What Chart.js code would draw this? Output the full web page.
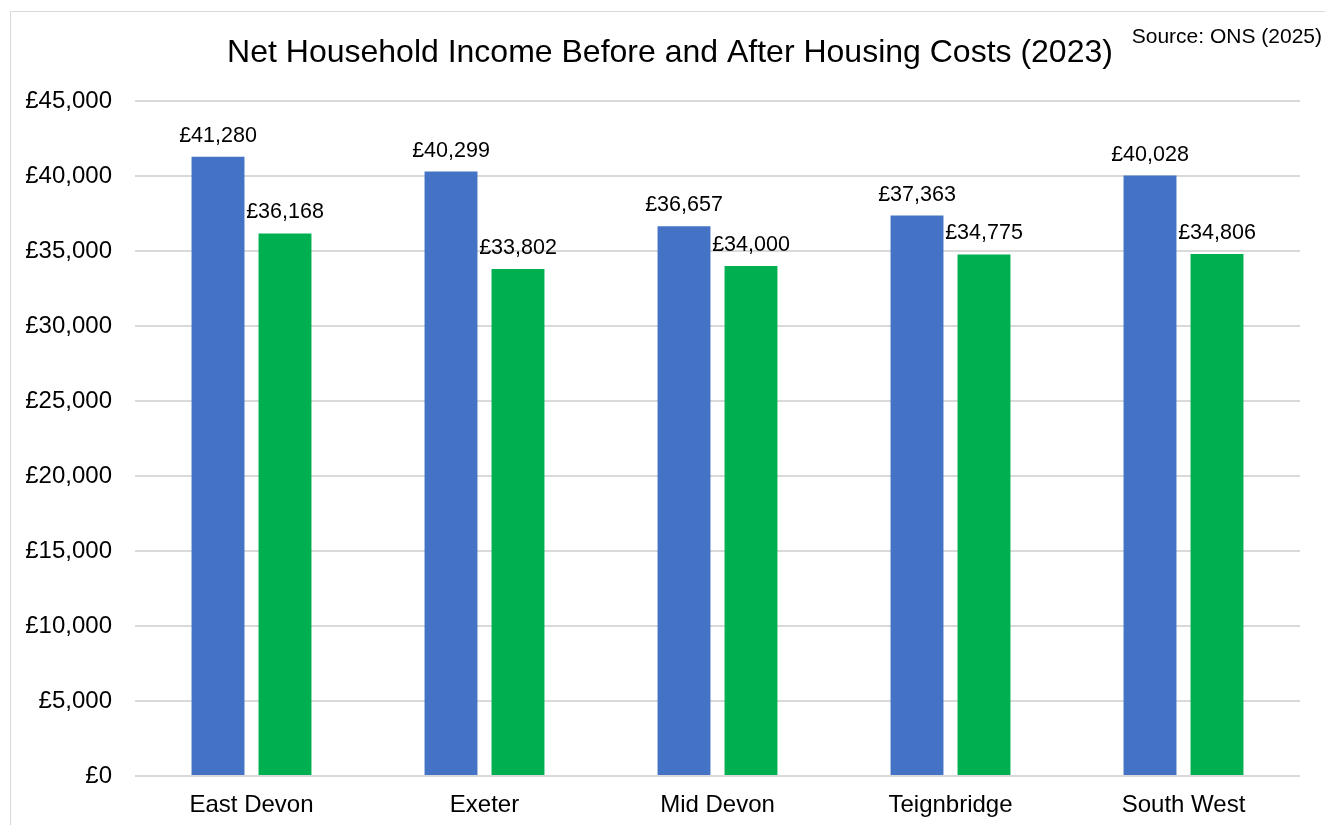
<!DOCTYPE html>
<html>
<head>
<meta charset="utf-8">
<script src="https://cdn.jsdelivr.net/npm/chart.js@4"></script>
<style>
html,body{margin:0;padding:0;background:#fff;}
#wrap{position:relative;width:1325px;height:825px;}
</style>
</head>
<body>
<div id="wrap"><canvas id="c" width="1325" height="825"></canvas></div>
<script>
const categories = ["East Devon", "Exeter", "Mid Devon", "Teignbridge", "South West"];
const beforeHousing = [41280, 40299, 36657, 37363, 40028];
const afterHousing = [36168, 33802, 34000, 34775, 34806];
const seriesNames = ["Before housing costs", "After housing costs"];
const titleText = "Net Household Income Before and After Housing Costs (2023)";
const sourceText = "Source: ONS (2025)";

const FONT = "'Liberation Sans', Arial, sans-serif";
const fmt = v => "£" + v.toLocaleString("en-GB");

const decor = {
  id: "decor",
  beforeDraw(chart) {
    const ctx = chart.ctx;
    ctx.save();
    ctx.fillStyle = "#fff";
    ctx.fillRect(0, 0, chart.width, chart.height);
    ctx.strokeStyle = "#d9d9d9";
    ctx.lineWidth = 1;
    ctx.strokeRect(10.5, 11.5, 1400, 900);
    ctx.restore();
  },
  afterDraw(chart) {
    const ctx = chart.ctx;
    ctx.save();
    ctx.fillStyle = "#000";
    ctx.textBaseline = "alphabetic";
    ctx.font = "32px " + FONT;
    ctx.textAlign = "center";
    ctx.fillText(titleText, 670, 62);
    ctx.font = "21px " + FONT;
    ctx.textAlign = "right";
    ctx.fillText(sourceText, 1322, 43);
    ctx.font = "21.5px " + FONT;
    ctx.textAlign = "center";
    chart.data.datasets.forEach((ds, i) => {
      const meta = chart.getDatasetMeta(i);
      meta.data.forEach((bar, j) => {
        ctx.fillText(fmt(ds.data[j]), bar.x, bar.y - 15);
      });
    });
    ctx.restore();
  }
};

new Chart(document.getElementById("c"), {
  type: "bar",
  data: {
    labels: categories,
    datasets: [
      { label: seriesNames[0], data: beforeHousing, backgroundColor: "#4472C4",
        categoryPercentage: 0.575, barPercentage: 0.79 },
      { label: seriesNames[1], data: afterHousing, backgroundColor: "#00B050",
        categoryPercentage: 0.575, barPercentage: 0.79 }
    ]
  },
  options: {
    responsive: false,
    animation: false,
    devicePixelRatio: 1,
    layout: { padding: { top: 101, right: 25, bottom: 0, left: 0 } },
    plugins: {
      legend: { display: false },
      tooltip: { enabled: false },
      title: { display: false }
    },
    scales: {
      x: {
        grid: { display: false, drawTicks: false },
        border: { display: false },
        ticks: { color: "#000", font: { family: FONT, size: 24 }, padding: 15 },
        afterFit(s) { s.height = 49; }
      },
      y: {
        min: 0, max: 45000,
        grid: { color: "#d9d9d9", lineWidth: 2, drawTicks: false },
        border: { display: false },
        ticks: { stepSize: 5000, color: "#000", font: { family: FONT, size: 24 }, padding: 23,
          callback: v => fmt(v) },
        afterFit(s) { s.width = 135; }
      }
    }
  },
  plugins: [decor]
});
</script>
</body>
</html>
